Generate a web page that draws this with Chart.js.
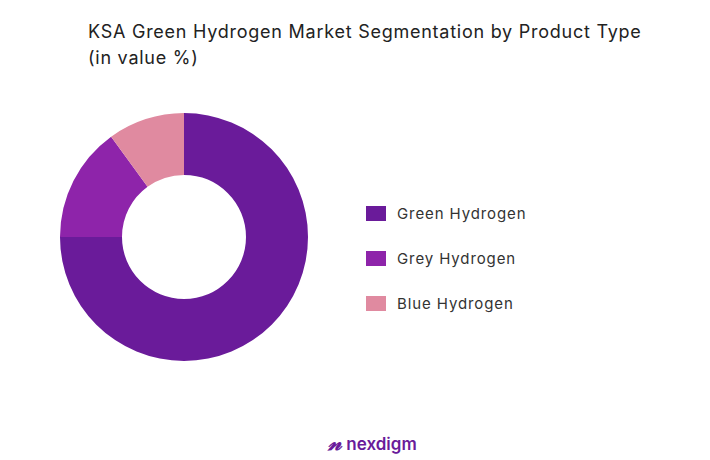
<!DOCTYPE html>
<html><head><meta charset="utf-8">
<script src="https://cdn.jsdelivr.net/npm/chart.js@4"></script>
<style>
body{margin:0;width:710px;height:460px;background:#fff;font-family:Inter,"Open Sans",sans-serif;position:relative;overflow:hidden}
#title{position:absolute;left:88px;top:19px;font-size:18px;letter-spacing:0.75px;line-height:26px;color:#222}
#wrap{position:absolute;left:50px;top:103px;width:268px;height:268px}
#legend{position:absolute;left:366px;top:203px;font-size:15px;letter-spacing:0.9px;color:#333}
.item{display:flex;align-items:center;height:20px;margin-bottom:25px}
.sw{width:20px;height:15px;margin-right:11px}
#logo{position:absolute;left:328px;top:429px;font-size:17px;font-weight:600;color:#6a1b9a}
</style></head><body>
<div id="title">KSA Green Hydrogen Market Segmentation by Product Type<br>(in value %)</div>
<div id="wrap"><canvas id="c"></canvas></div>
<div id="legend"></div>
<div id="logo"><span style="font-size:22px;font-style:italic">𝓃</span> nexdigm</div>
<script>
const categories=["Green Hydrogen","Grey Hydrogen","Blue Hydrogen"];
const values=[75,15,10];
const colors=["#6a1b9a","#8e24aa","#e08aa0"];
const lg=document.getElementById('legend');
categories.forEach((c,i)=>{lg.innerHTML+=`<div class="item"><div class="sw" style="background:${colors[i]}"></div>${c}</div>`});
new Chart(document.getElementById('c'),{type:'doughnut',
data:{labels:categories,datasets:[{data:values,backgroundColor:colors,borderWidth:0}]},
options:{responsive:true,maintainAspectRatio:false,animation:false,cutout:'50%',layout:{padding:10},
plugins:{legend:{display:false},tooltip:{enabled:false}}}});
</script></body></html>
